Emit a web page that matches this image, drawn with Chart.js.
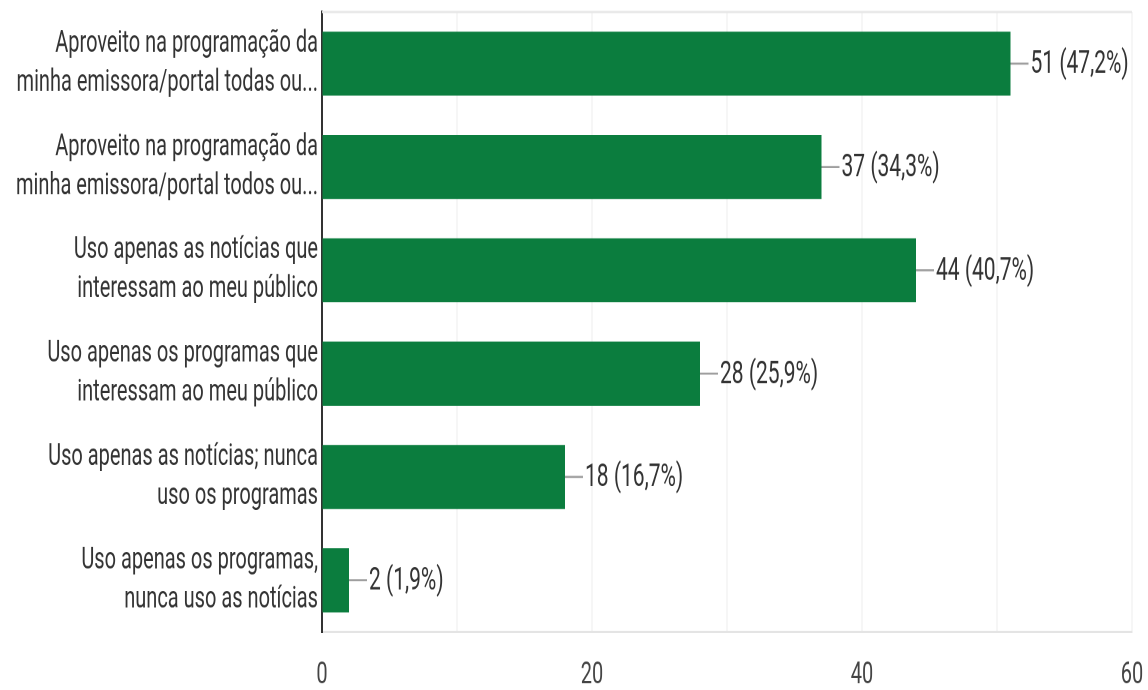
<!DOCTYPE html>
<html lang="pt">
<head>
    <meta charset="UTF-8">
    <title>Uso da programação</title>
    <style>
        body{
            margin: 0px;
            padding: 0px;
            background-color: white;
        }
        #myChart{
            display: block;
            width: 1148px;
            height: 690px;
        }
    </style>
</head>
<body>
    <!-- drawn at 1148x460 and stretched to 690px tall, like the reference -->
    <canvas id="myChart" width="1148" height="460" style="width:1148px; height:690px;"></canvas>

    <script src="https://cdn.jsdelivr.net/npm/chart.js@4.4.1/dist/chart.umd.min.js"></script>
    <script>
        const categories = [
            ['Aproveito na programação da', 'minha emissora/portal todas ou...'],
            ['Aproveito na programação da', 'minha emissora/portal todos ou...'],
            ['Uso apenas as notícias que', 'interessam ao meu público'],
            ['Uso apenas os programas que', 'interessam ao meu público'],
            ['Uso apenas as notícias; nunca', 'uso os programas'],
            ['Uso apenas os programas,', 'nunca uso as notícias']
        ];
        const counts = [51, 37, 44, 28, 18, 2];
        const percents = ['47,2%', '34,3%', '40,7%', '25,9%', '16,7%', '1,9%'];
        const xTicks = [0, 20, 40, 60];

        const font = 'Roboto';

        // value label with the little grey leader line
        const barLabels = {
            id: 'barLabels',
            afterDatasetsDraw(chart) {
                const ctx = chart.ctx;
                const meta = chart.getDatasetMeta(0);
                ctx.save();
                meta.data.forEach((bar, i) => {
                    ctx.strokeStyle = '#9e9e9e';
                    ctx.lineWidth = 1.4;
                    ctx.beginPath();
                    ctx.moveTo(bar.x, bar.y);
                    ctx.lineTo(bar.x + 18, bar.y);
                    ctx.stroke();
                    ctx.fillStyle = '#333';
                    ctx.font = '21px ' + font;
                    ctx.textAlign = 'left';
                    ctx.textBaseline = 'middle';
                    ctx.fillText(counts[i] + ' (' + percents[i] + ')', bar.x + 20, bar.y + 1);
                });
                ctx.restore();
            }
        };

        // light frame line on top of the plot
        const topLine = {
            id: 'topLine',
            beforeDatasetsDraw(chart) {
                const a = chart.chartArea;
                const ctx = chart.ctx;
                ctx.save();
                ctx.strokeStyle = '#e8e8e8';
                ctx.lineWidth = 1.4;
                ctx.beginPath();
                ctx.moveTo(a.left, a.top);
                ctx.lineTo(a.right, a.top);
                ctx.stroke();
                ctx.restore();
            }
        };

        const ctx = document.getElementById('myChart').getContext('2d');
        const myChart = new Chart(ctx, {
            type: 'bar',
            data: {
                labels: categories,
                datasets: [{
                    data: counts,
                    backgroundColor: '#0b7d3e',
                    borderWidth: 0,
                    categoryPercentage: 0.62,
                    barPercentage: 1
                }]
            },
            options: {
                indexAxis: 'y',
                responsive: false,
                devicePixelRatio: 2,
                animation: false,
                layout: {
                    padding: {top: 8, right: 16, bottom: 0, left: 0}
                },
                plugins: {
                    legend: {display: false},
                    tooltip: {enabled: false}
                },
                scales: {
                    x: {
                        min: 0,
                        max: 60,
                        ticks: {
                            stepSize: 10,
                            autoSkip: false,
                            maxRotation: 0,
                            padding: 17,
                            color: '#444',
                            font: {family: font, size: 20},
                            callback: (v) => xTicks.includes(v) ? String(v) : ''
                        },
                        grid: {
                            color: '#ececec',
                            lineWidth: 1,
                            drawTicks: false
                        },
                        border: {color: '#e4e4e4', width: 1.5},
                        afterFit: (scale) => {
                            scale.height = 38.7;
                            scale.paddingLeft = 0;
                            scale.paddingRight = 0;
                        }
                    },
                    y: {
                        ticks: {
                            autoSkip: false,
                            padding: 4,
                            color: '#333',
                            font: {family: font, size: 20, lineHeight: 1.3}
                        },
                        grid: {display: false, drawTicks: false},
                        border: {color: '#333', width: 2},
                        afterFit: (scale) => {
                            scale.width = 322;
                            scale.paddingTop = 0;
                            scale.paddingBottom = 0;
                        }
                    }
                }
            },
            plugins: [topLine, barLabels]
        });
    </script>
</body>
</html>
